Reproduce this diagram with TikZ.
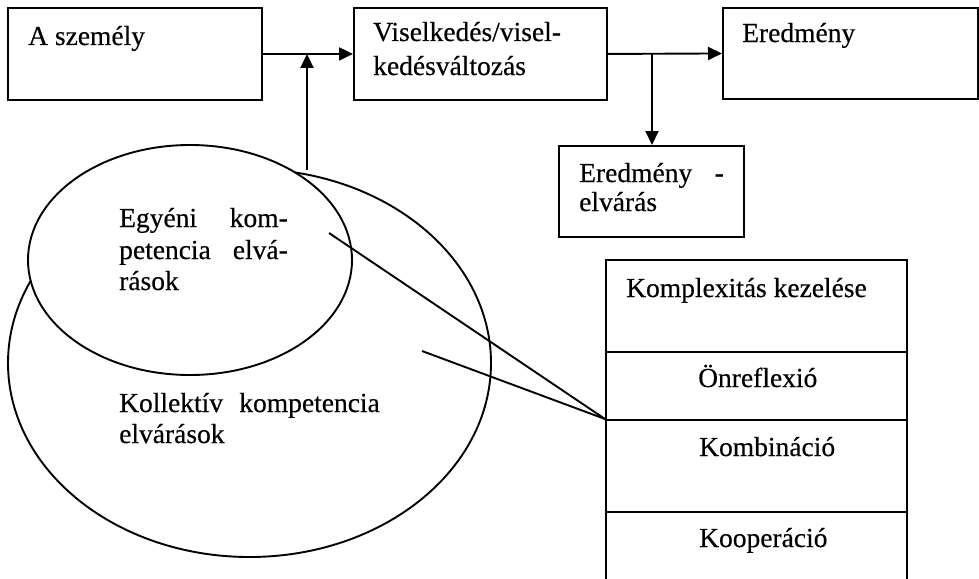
\documentclass[tikz,border=0pt]{standalone}
\usepackage{fontspec}
\setmainfont{Liberation Serif}[FakeBold=0.4]
\usetikzlibrary{arrows.meta}
\begin{document}
\begin{tikzpicture}[x=1pt,y=-1pt,
  box/.style={draw, line width=1.9pt, inner sep=0pt, anchor=north west},
  lbl/.style={anchor=base west, inner sep=0pt, font=\fontsize{27.5}{32}\selectfont},
  lblr/.style={anchor=base east, inner sep=0pt, font=\fontsize{27.5}{32}\selectfont},
  conn/.style={line width=1.9pt},
  arr/.style={line width=1.9pt, -{Triangle[length=14pt,width=13pt]}}
]
\useasboundingbox (0,0) rectangle (979,578);
\clip (0,0) rectangle (979,578);

% boxes
\node[box, minimum width=254pt, minimum height=92pt] (person) at (7,7) {};
\node[box, minimum width=253pt, minimum height=92pt] (beh) at (353,7) {};
\node[box, minimum width=255pt, minimum height=91pt] (res) at (722,7) {};
\node[box, minimum width=185pt, minimum height=91pt] (exp) at (558,145) {};
\node[box, minimum width=301pt, minimum height=92pt] (r1) at (605,259) {};
\node[box, minimum width=301pt, minimum height=68pt] (r2) at (605,351) {};
\node[box, minimum width=301pt, minimum height=92pt] (r3) at (605,419) {};
\node[box, minimum width=301pt, minimum height=80pt] (r4) at (605,511) {};

% ellipses
\coordinate (bigc) at (249.5,363);
\coordinate (smallc) at (190,260);
\draw[conn] (bigc) ellipse [x radius=241.5pt, y radius=194pt];
\draw[conn, fill=white] (smallc) ellipse [x radius=162pt, y radius=115pt];

% arrows
\coordinate (split) at (652,53);
\coordinate (up) at (307,170);
\draw[arr] (person.east) -- (beh.west);
\draw[arr] (beh.east) -- (res.west);
\draw[arr] (split) -- (split |- exp.north);
\draw[arr] (up) -- (up |- person.east);

% pointer lines
\coordinate (p1) at (329,233);
\coordinate (p2) at (422,351);
\draw[conn] (p1) -- (r3.north west);
\draw[conn] (p2) -- (r3.north west);

% texts
\node[lbl] (t1) at (28,45) {A személy};
\node[lbl] (t2) at (373,41) {Viselkedés/visel-};
\node[lbl] (t3) at (373,75) {kedésváltozás};
\node[lbl] (t4) at (742,42) {Eredmény};
\node[lbl] (t5) at (579,182) {Eredmény};
\node[lblr] (t5b) at (724,182) {-};
\node[lbl] (t6) at (579,211) {elvárás};
\node[lbl] (e1) at (119,227) {Egyéni};
\node[lblr] (e1b) at (288,227) {kom-};
\node[lbl] (e2) at (119,259) {petencia};
\node[lblr] (e2b) at (288,259) {elvá-};
\node[lbl] (e3) at (119,290) {rások};
\node[lbl] (k1) at (119,412) {Kollektív};
\node[lblr] (k1b) at (380,412) {kompetencia};
\node[lbl] (k2) at (119,443) {elvárások};
\node[lbl] (c1) at (626,297) {Komplexitás kezelése};
\node[lbl] (c2) at (698,387) {Önreflexió};
\node[lbl] (c3) at (699,456) {Kombináció};
\node[lbl] (c4) at (699,547) {Kooperáció};
\end{tikzpicture}
\end{document}
